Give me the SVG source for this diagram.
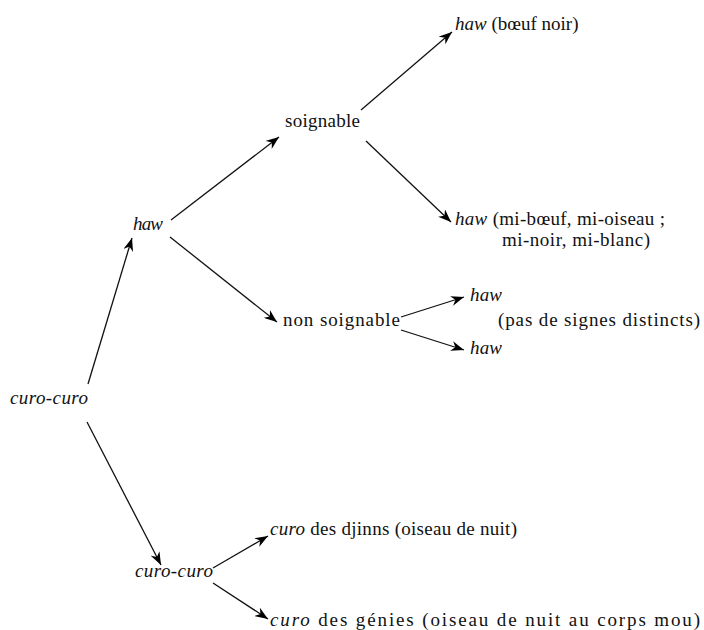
<svg xmlns="http://www.w3.org/2000/svg" width="704" height="630" viewBox="0 0 704 630">
<defs>
<marker id="ah" markerWidth="14" markerHeight="10" viewBox="0 0 14 10" refX="13" refY="5" orient="auto" markerUnits="userSpaceOnUse">
<path d="M0,0 L13,5 L0,10 L4,5 Z" fill="#000"/>
</marker>
</defs>
<style>
.i{font-style:italic}
line{stroke:#111;stroke-width:1.3;marker-end:url(#ah)}
</style>
<rect width="704" height="630" fill="#fff"/>
<g id="connectors">
<line x1="88" y1="384" x2="132" y2="238"/>
<line x1="87" y1="422" x2="161" y2="565"/>
<line x1="171" y1="220" x2="279" y2="137"/>
<line x1="170" y1="237" x2="277" y2="322"/>
<line x1="361" y1="110" x2="452" y2="32"/>
<line x1="366" y1="141" x2="451" y2="222"/>
<line x1="401" y1="317" x2="464" y2="297"/>
<line x1="401" y1="330" x2="464" y2="350"/>
<line x1="213" y1="568" x2="268" y2="536"/>
<line x1="213" y1="583" x2="268" y2="619"/>
</g>
<g font-family="Liberation Serif, serif" font-size="19" fill="#111">
<g id="root"><text class="i" x="10" y="404" textLength="78">curo-curo</text></g>
<g id="haw1"><text class="i" x="133" y="230" textLength="30">haw</text></g>
<g id="curo2"><text class="i" x="135" y="577" textLength="78">curo-curo</text></g>
<g id="soignable"><text x="285" y="127" textLength="75">soignable</text></g>
<g id="nonsoignable"><text x="283" y="326" textLength="117">non soignable</text></g>
<g id="boeufnoir"><text x="455" y="30"><tspan class="i">haw</tspan> (bœuf noir)</text></g>
<g id="miboeuf"><text x="455" y="225" textLength="210"><tspan class="i">haw</tspan> (mi-bœuf, mi-oiseau ;</text><text x="502" y="246" textLength="148">mi-noir, mi-blanc)</text></g>
<g id="haw2"><text class="i" x="470" y="301" textLength="32">haw</text></g>
<g id="haw3"><text class="i" x="470" y="354" textLength="32">haw</text></g>
<g id="pas"><text x="498" y="326" textLength="202">(pas de signes distincts)</text></g>
<g id="djinns"><text x="270" y="535" textLength="247"><tspan class="i">curo</tspan> des djinns (oiseau de nuit)</text></g>
<g id="genies"><text x="270" y="626" textLength="430"><tspan class="i">curo</tspan> des génies (oiseau de nuit  au corps mou)</text></g>
</g>
</svg>
